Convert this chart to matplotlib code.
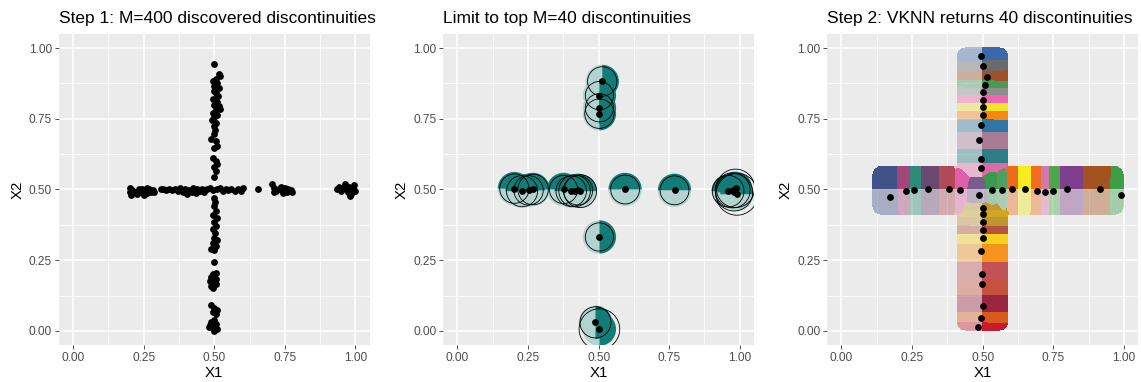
import numpy as np
import matplotlib
matplotlib.use("Agg")
import matplotlib.pyplot as plt
from matplotlib.patches import Wedge, Circle
from matplotlib.colors import to_rgba

plt.rcParams['font.family'] = ['Liberation Sans', 'DejaVu Sans']

# ---------------- data ----------------
tick_values = [0.0, 0.25, 0.5, 0.75, 1.0]
tick_labels = ['0.00', '0.25', '0.50', '0.75', '1.00']
minor_values = [0.125, 0.375, 0.625, 0.875]

titles = ['Step 1: M=400 discovered discontinuities',
          'Limit to top M=40 discontinuities',
          'Step 2: VKNN returns 40 discontinuities']

# Step 1: discovered discontinuities, vertical arm
step1_vx = [0.500, 0.515, 0.520, 0.505, 0.495, 0.510, 0.500, 0.515, 0.498, 0.505,
            0.512, 0.497, 0.508, 0.500, 0.515, 0.520, 0.505, 0.495, 0.510, 0.500,
            0.492, 0.505, 0.498, 0.502, 0.500, 0.488, 0.505, 0.510, 0.500, 0.497,
            0.505, 0.510, 0.500, 0.505, 0.500,
            0.498, 0.502, 0.500, 0.505, 0.497, 0.508, 0.500, 0.505, 0.497, 0.503,
            0.500, 0.510, 0.495, 0.505, 0.490, 0.500, 0.498, 0.505, 0.495, 0.490,
            0.505, 0.485, 0.500, 0.490, 0.505, 0.495, 0.488, 0.500, 0.510, 0.495,
            0.505, 0.500, 0.490, 0.505, 0.480, 0.495, 0.510, 0.500, 0.485]
step1_vy = [0.945, 0.910, 0.900, 0.890, 0.885, 0.875, 0.865, 0.860, 0.850, 0.840,
            0.830, 0.820, 0.810, 0.800, 0.795, 0.785, 0.780, 0.770, 0.765, 0.755,
            0.745, 0.735, 0.725, 0.710, 0.695, 0.680, 0.670, 0.655, 0.645, 0.610,
            0.600, 0.590, 0.580, 0.565, 0.545,
            0.470, 0.455, 0.440, 0.425, 0.410, 0.400, 0.385, 0.370, 0.360, 0.345,
            0.330, 0.320, 0.310, 0.300, 0.290, 0.285, 0.245, 0.205, 0.200, 0.190,
            0.185, 0.175, 0.170, 0.160, 0.165, 0.150, 0.090, 0.080, 0.075, 0.065,
            0.060, 0.040, 0.030, 0.025, 0.015, 0.010, 0.005, 0.000, 0.020]

# Step 1: discovered discontinuities, horizontal arm
step1_hx = [0.200, 0.200, 0.205, 0.210, 0.218, 0.225, 0.232, 0.240, 0.245, 0.250,
            0.255, 0.262, 0.268, 0.275, 0.282, 0.288, 0.260,
            0.310, 0.320, 0.330, 0.340, 0.350, 0.360, 0.370, 0.380, 0.390, 0.395,
            0.405, 0.410, 0.420, 0.425, 0.435, 0.440, 0.450, 0.458, 0.465, 0.475,
            0.485, 0.495, 0.510, 0.520, 0.530, 0.540, 0.550, 0.560, 0.575, 0.585,
            0.595, 0.600,
            0.655,
            0.705, 0.710, 0.712, 0.720, 0.730, 0.738, 0.745, 0.750, 0.757, 0.762,
            0.770, 0.775, 0.742,
            0.935, 0.940, 0.948, 0.955, 0.962, 0.968, 0.972, 0.978, 0.985, 0.990,
            0.995, 0.980, 0.998]
step1_hy = [0.505, 0.490, 0.480, 0.498, 0.492, 0.485, 0.500, 0.490, 0.503, 0.480,
            0.495, 0.487, 0.500, 0.490, 0.497, 0.492, 0.505,
            0.500, 0.502, 0.498, 0.500, 0.497, 0.503, 0.495, 0.505, 0.490, 0.500,
            0.485, 0.498, 0.490, 0.505, 0.488, 0.500, 0.495, 0.503, 0.492, 0.500,
            0.505, 0.498, 0.500, 0.505, 0.495, 0.500, 0.498, 0.503, 0.496, 0.500,
            0.495, 0.505,
            0.500,
            0.520, 0.505, 0.490, 0.495, 0.500, 0.510, 0.495, 0.505, 0.490, 0.500,
            0.497, 0.490, 0.488,
            0.500, 0.510, 0.495, 0.505, 0.520, 0.500, 0.490, 0.510, 0.485, 0.500,
            0.515, 0.478, 0.495]

# Top M=40 discontinuities with their neighbourhood radius
top_x = [0.513, 0.503, 0.503, 0.503, 0.503, 0.489, 0.503,
         0.202, 0.229, 0.252, 0.268, 0.376, 0.403, 0.415, 0.427, 0.435,
         0.594, 0.769, 0.959, 0.975, 0.985, 0.990, 0.980]
top_y = [0.882, 0.832, 0.789, 0.768, 0.332, 0.030, 0.006,
         0.503, 0.494, 0.497, 0.500, 0.500, 0.494, 0.495, 0.497, 0.494,
         0.500, 0.497, 0.494, 0.497, 0.504, 0.483, 0.490]
top_r = [0.052, 0.050, 0.050, 0.052, 0.050, 0.055, 0.072,
         0.052, 0.055, 0.052, 0.054, 0.050, 0.054, 0.056, 0.052, 0.058,
         0.051, 0.051, 0.056, 0.062, 0.068, 0.074, 0.066]

# Step 2: VKNN discontinuities and their cluster colours
vknn_x = [0.494, 0.503, 0.515, 0.509, 0.503, 0.503, 0.500, 0.500, 0.494, 0.487, 0.496, 0.496,
          0.487,
          0.500, 0.503, 0.503, 0.500, 0.500, 0.496, 0.498, 0.498, 0.500, 0.494, 0.485,
          0.172, 0.228, 0.257, 0.307, 0.382, 0.421,
          0.532, 0.568, 0.603, 0.650, 0.691, 0.721, 0.749, 0.799, 0.914, 0.990]
vknn_y = [0.971, 0.935, 0.897, 0.869, 0.844, 0.818, 0.790, 0.764, 0.728, 0.674, 0.608, 0.577,
          0.482,
          0.433, 0.415, 0.386, 0.355, 0.328, 0.281, 0.201, 0.164, 0.088, 0.044, 0.014,
          0.475, 0.494, 0.497, 0.500, 0.500, 0.497,
          0.497, 0.497, 0.500, 0.500, 0.494, 0.492, 0.494, 0.500, 0.500, 0.479]
vknn_colors = ['#3A68A8', '#6B6B6B', '#A0502A', '#4E9A55', '#8E8E8E', '#EE66AE',
               '#F2E62C', '#FA8613', '#2F76A6', '#A97C96', '#2C7D86', '#E06AA6',
               '#7A5C8C',
               '#C09A2E', '#D3A41E', '#BE9530', '#B5533E', '#F7D21C', '#F7941E',
               '#C05258', '#C5523E', '#9B2540', '#DA5A1E', '#C8192E',
               '#415289', '#A3477A', '#2E8B78', '#6B4870', '#B04A58', '#E060A8',
               '#3D9A4D', '#4FA060', '#F06A1C', '#F7EC1E', '#F26E1E', '#D378AA',
               '#4DA84C', '#7E3F8E', '#A3531E', '#3E9E46']

# ---------------- figure ----------------
fig = plt.figure(figsize=(11.41, 3.82), dpi=100)
lefts = [0.0517, 0.3885, 0.7251]
axes = [fig.add_axes([l, 0.0969, 0.2722, 0.8142]) for l in lefts]

BG = '#EBEBEB'


def style(ax, title):
    ax.set_facecolor(BG)
    ax.set_xlim(-0.05, 1.05)
    ax.set_ylim(-0.05, 1.05)
    ax.set_xticks(tick_values)
    ax.set_yticks(tick_values)
    ax.set_xticklabels(tick_labels)
    ax.set_yticklabels(tick_labels)
    ax.set_xticks(minor_values, minor=True)
    ax.set_yticks(minor_values, minor=True)
    ax.grid(which='major', color='white', linewidth=1.1)
    ax.grid(which='minor', color='white', linewidth=0.55)
    ax.set_axisbelow(True)
    ax.tick_params(which='minor', length=0)
    ax.tick_params(which='major', length=2.9, width=0.6, color='#333333',
                   labelcolor='#4D4D4D', labelsize=8.6, pad=2.2)
    for s in ax.spines.values():
        s.set_visible(False)
    ax.set_xlabel('X1', fontsize=10.8, labelpad=1.5)
    ax.set_ylabel('X2', fontsize=10.8, labelpad=3)
    ax.set_title(title, loc='left', fontsize=12.5, pad=8)


for ax, t in zip(axes, titles):
    style(ax, t)

DOT = dict(s=24, color='black', linewidths=0, zorder=5)

# ---- panel 1 ----
ax = axes[0]
ax.scatter(step1_vx + step1_hx, step1_vy + step1_hy, **DOT)

# ---- panel 2 ----
ax = axes[1]
TEAL_DARK = '#127C76'
TEAL_LIGHT = '#B2D3D0'
CLOUD_R = 0.059
vertical = [abs(y - 0.5) > 0.1 for y in top_y]
for x, y, v in zip(top_x, top_y, vertical):
    a, b = (90, 270) if v else (180, 360)
    ax.add_patch(Wedge((x, y), CLOUD_R, a, b, facecolor=TEAL_LIGHT,
                       edgecolor='none', zorder=2))
for x, y, v in zip(top_x, top_y, vertical):
    a, b = (-90, 90) if v else (0, 180)
    ax.add_patch(Wedge((x, y), CLOUD_R, a, b, facecolor=TEAL_DARK,
                       edgecolor='none', zorder=3))
for x, y, r in zip(top_x, top_y, top_r):
    ax.add_patch(Circle((x, y), r, facecolor='none', edgecolor='black',
                        linewidth=0.6, zorder=4))
ax.scatter(top_x, top_y, **DOT)

# ---- panel 3 ----
ax = axes[2]
res = 900
g = np.linspace(-0.05, 1.05, res)
X, Y = np.meshgrid(g, g)


def rounded_rect(x0, x1, y0, y1, r):
    dx = np.maximum(np.maximum(x0 - X, X - x1), 0)
    dy = np.maximum(np.maximum(y0 - Y, Y - y1), 0)
    return np.hypot(dx, dy) <= r


domain = (rounded_rect(0.44, 0.56, 0.03, 0.97, 0.03)
          | rounded_rect(0.14, 0.97, 0.44, 0.55, 0.03))

cx = np.array(vknn_x)
cy = np.array(vknn_y)
is_vertical = np.abs(cy - 0.5) > 0.06
is_centre = np.hypot(cx - 0.5, cy - 0.5) < 0.03
# neighbourhoods stretch along the arm each discontinuity lies on
wx = np.where(is_vertical, 0.3, np.where(is_centre, 0.55, 1.0))
wy = np.where(is_vertical, 1.0, np.where(is_centre, 0.55, 0.3))

best = np.full(X.shape, np.inf)
label = np.zeros(X.shape, dtype=int)
for i in range(len(cx)):
    d = (wx[i] * (X - cx[i])) ** 2 + (wy[i] * (Y - cy[i])) ** 2
    m = d < best
    best[m] = d[m]
    label[m] = i

dark = np.where(is_vertical[label], X >= 0.5, Y >= 0.5)
cols = np.array([to_rgba(c) for c in vknn_colors])
img = cols[label].copy()
img[..., 3] = np.where(dark, 1.0, 0.4)
img[~domain, 3] = 0.0
ax.imshow(img, origin='lower', extent=[-0.05, 1.05, -0.05, 1.05],
          aspect='auto', interpolation='nearest', zorder=2)
ax.set_xlim(-0.05, 1.05)
ax.set_ylim(-0.05, 1.05)
ax.scatter(vknn_x, vknn_y, **DOT)

fig.savefig('out.png', dpi=100)
